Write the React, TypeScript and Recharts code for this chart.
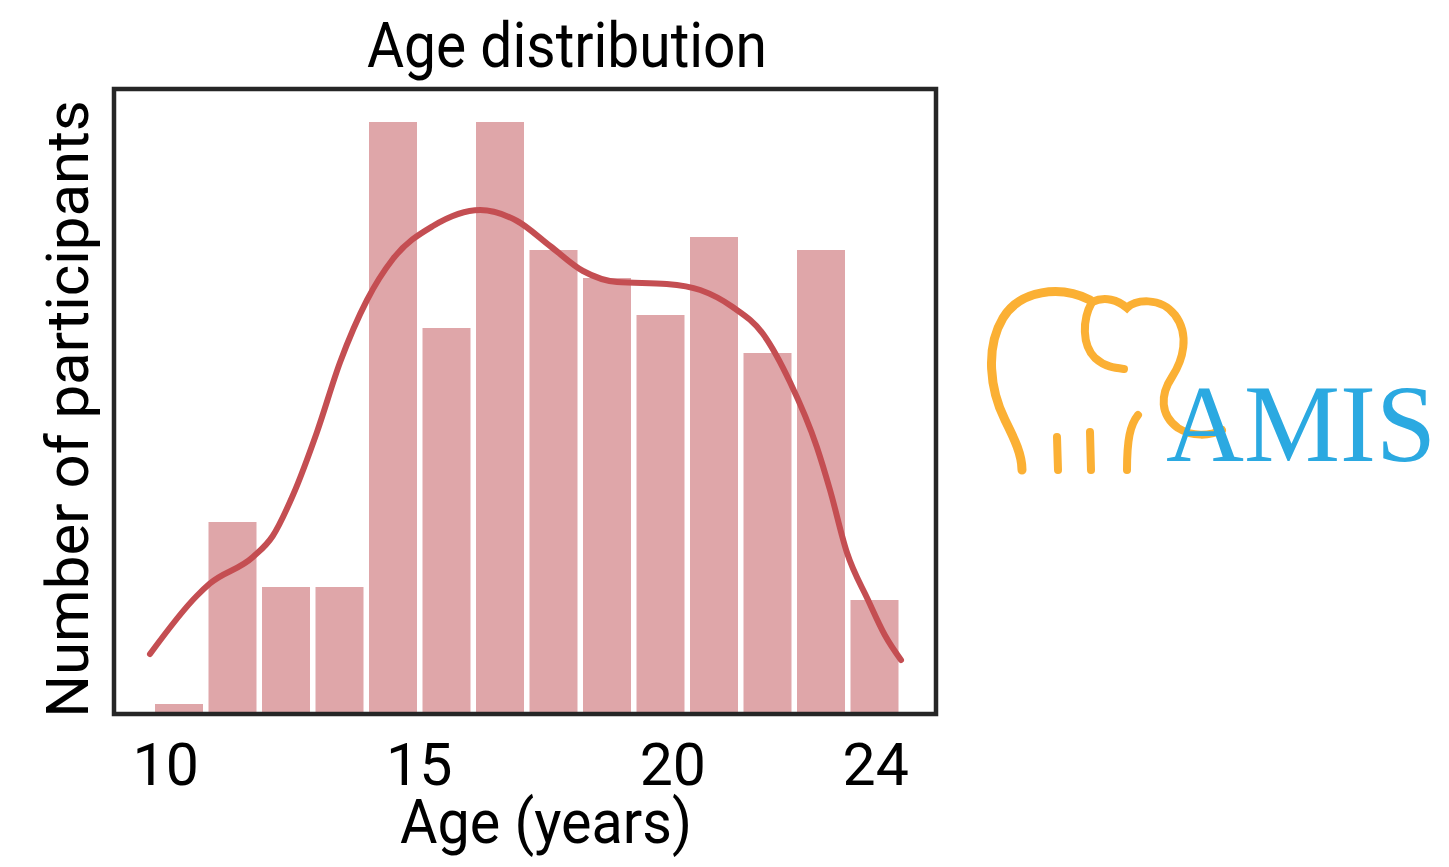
import { BarChart, Bar, LineChart, Line, XAxis, YAxis, ReferenceArea } from 'recharts';

// histogram bins (bin centre, years) and bar heights
const binLabels = ['10.3', '11.3', '12.4', '13.4', '14.5', '15.5', '16.6', '17.6', '18.7', '19.8', '20.8', '21.9', '22.9', '24.0'];
const binCounts = [0.5, 9.6, 6.35, 6.35, 29.6, 19.3, 29.6, 23.2, 21.8, 19.95, 23.85, 18.05, 23.2, 5.7];

// kde curve
const kdeAges = [9.69, 10.61, 10.87, 11.72, 12.11, 12.51, 12.98, 13.44, 13.97, 14.48, 15.27, 16.2, 16.93, 17.58, 18.23, 18.9, 19.88, 20.54, 21.18, 21.78, 22.31, 22.84, 23.1, 23.43, 23.85, 24.18, 24.5];
const kdeValues = [3.0, 5.9, 6.52, 7.85, 8.9, 10.95, 14.08, 17.6, 20.7, 22.75, 24.4, 25.2, 24.65, 23.4, 22.15, 21.6, 21.5, 21.2, 20.35, 19.0, 16.6, 13.35, 11.2, 8.1, 5.7, 3.95, 2.7];

const xTicks = [10, 15, 20, 24];
const xDomain = [8.98, 25.19];
const yDomain = [0, 31.25];

const W = 1449;
const H = 867;
const margin = { top: 89, right: 513, left: 114, bottom: 153 };

const barData = binLabels.map((bin, i) => ({ bin, count: binCounts[i] }));
const kdeData = kdeAges.map((age, i) => ({ age, density: kdeValues[i] }));

const layer = { position: 'absolute' as const, left: 0, top: 0 };
const orange = '#FBB034';

const App = () => {
  return (
    <div style={{ position: 'absolute', left: 0, top: 0, width: W, height: H, background: '#fff', fontFamily: 'Roboto' }}>
      <div style={layer}>
        <BarChart width={W} height={H} data={barData} margin={margin}>
          <XAxis dataKey="bin" hide height={0} padding={{ left: 38, right: 35 }} />
          <YAxis hide width={0} domain={yDomain} />
          <Bar dataKey="count" fill="#DFA6A9" barSize={48} isAnimationActive={false} />
        </BarChart>
      </div>
      <div style={layer}>
        <LineChart width={W} height={H} data={kdeData} margin={{ ...margin, bottom: margin.bottom - 80 }}>
          <XAxis
            dataKey="age"
            type="number"
            domain={xDomain}
            ticks={xTicks}
            allowDataOverflow
            height={80}
            axisLine={false}
            tickLine={false}
            tickSize={0}
            tickMargin={29}
            tick={{ fontSize: 59, fill: '#000', fontFamily: 'Roboto' }}
          />
          <YAxis hide width={0} domain={yDomain} allowDataOverflow />
          <ReferenceArea x1={xDomain[0]} x2={xDomain[1]} y1={yDomain[0]} y2={yDomain[1]} fill="none" stroke="#262626" strokeWidth={4.5} />
          <Line
            type="monotone"
            dataKey="density"
            stroke="#C44E52"
            strokeWidth={6}
            strokeLinecap="round"
            dot={false}
            isAnimationActive={false}
          />
        </LineChart>
      </div>
      <svg width={W} height={H} style={{ ...layer, pointerEvents: 'none' }}>
        <text x={567} y={67} fontSize={63} textAnchor="middle" textLength={400} lengthAdjust="spacingAndGlyphs" fill="#000">
          Age distribution
        </text>
        <text transform="translate(88,409) rotate(-90)" fontSize={60} textAnchor="middle" fill="#000">
          Number of participants
        </text>
        <text x={546} y={843} fontSize={61} textAnchor="middle" textLength={292} lengthAdjust="spacingAndGlyphs" fill="#000">
          Age (years)
        </text>
        {/* logo */}
        <g fill="none" stroke={orange} strokeLinecap="round" strokeWidth={9}>
          <path d="M1090,300 C1060,285 1020,290 1003,318 C985,348 990,390 1005,420 C1015,440 1022,455 1022,470" />
          <path d="M1092,302 C1082,320 1082,345 1095,358 C1105,367 1115,368 1124,369" strokeWidth={8} />
          <path d="M1092,302 C1105,296 1118,300 1127,308 C1135,300 1160,296 1175,315 C1190,335 1183,360 1172,377 C1160,395 1160,415 1178,428 C1192,437 1210,436 1222,430" strokeWidth={8} />
          <path d="M1057,437 L1058,470" strokeWidth={8} />
          <path d="M1090,432 L1091,470" strokeWidth={8} />
          <path d="M1138,415 C1130,425 1127,440 1127,470" strokeWidth={8} />
        </g>
        <text x={1166} y={461} fontSize={110} fontFamily="'Liberation Serif', serif" textLength={270} lengthAdjust="spacingAndGlyphs" fill="#2BA9E1">
          AMIS
        </text>
      </svg>
    </div>
  );
};

export default App;
